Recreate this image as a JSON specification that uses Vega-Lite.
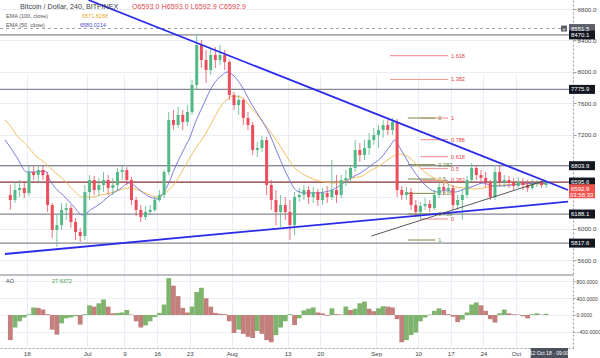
{
"$schema":"https://vega.github.io/schema/vega-lite/v6.json",
"width":573,"height":348,
"autosize":{"type":"none"},
"padding":{"left":0,"top":0,"right":27,"bottom":10},
"background":"white",
"config":{"view":{"stroke":null},"font":"Liberation Sans"},
"datasets":{
"candles":[
{"t":"2018-06-14T12:00Z","o":6431,"h":6558,"l":6240,"c":6367,"ao":-600},
{"t":"2018-06-15T12:00Z","o":6367,"h":6596,"l":6329,"c":6494,"ao":-300},
{"t":"2018-06-16T12:00Z","o":6494,"h":6622,"l":6405,"c":6520,"ao":-150},
{"t":"2018-06-17T12:00Z","o":6520,"h":6609,"l":6392,"c":6456,"ao":-60},
{"t":"2018-06-18T12:00Z","o":6456,"h":6813,"l":6418,"c":6724,"ao":20},
{"t":"2018-06-19T12:00Z","o":6724,"h":6800,"l":6622,"c":6685,"ao":180},
{"t":"2018-06-20T12:00Z","o":6685,"h":6787,"l":6596,"c":6749,"ao":170},
{"t":"2018-06-21T12:00Z","o":6749,"h":6813,"l":6622,"c":6685,"ao":130},
{"t":"2018-06-22T12:00Z","o":6685,"h":6724,"l":6214,"c":6303,"ao":20},
{"t":"2018-06-23T12:00Z","o":6303,"h":6329,"l":5883,"c":5985,"ao":-350},
{"t":"2018-06-24T12:00Z","o":5985,"h":6176,"l":5768,"c":6048,"ao":-470},
{"t":"2018-06-25T12:00Z","o":6048,"h":6329,"l":5985,"c":6240,"ao":-200},
{"t":"2018-06-26T12:00Z","o":6240,"h":6329,"l":6112,"c":6265,"ao":-80},
{"t":"2018-06-27T12:00Z","o":6265,"h":6303,"l":6010,"c":6087,"ao":-60},
{"t":"2018-06-28T12:00Z","o":6087,"h":6138,"l":5857,"c":5959,"ao":-30},
{"t":"2018-06-29T12:00Z","o":5959,"h":6010,"l":5832,"c":5908,"ao":-230},
{"t":"2018-06-30T12:00Z","o":5908,"h":6558,"l":5857,"c":6469,"ao":20},
{"t":"2018-07-01T12:00Z","o":6469,"h":6685,"l":6367,"c":6622,"ao":230},
{"t":"2018-07-02T12:00Z","o":6622,"h":6673,"l":6431,"c":6494,"ao":200},
{"t":"2018-07-03T12:00Z","o":6494,"h":6647,"l":6418,"c":6558,"ao":280},
{"t":"2018-07-04T12:00Z","o":6558,"h":6724,"l":6469,"c":6622,"ao":370},
{"t":"2018-07-05T12:00Z","o":6622,"h":6685,"l":6431,"c":6520,"ao":200},
{"t":"2018-07-06T12:00Z","o":6520,"h":6647,"l":6431,"c":6558,"ao":40},
{"t":"2018-07-07T12:00Z","o":6558,"h":6775,"l":6494,"c":6724,"ao":50},
{"t":"2018-07-08T12:00Z","o":6724,"h":6800,"l":6622,"c":6749,"ao":60},
{"t":"2018-07-09T12:00Z","o":6749,"h":6787,"l":6558,"c":6622,"ao":120},
{"t":"2018-07-10T12:00Z","o":6622,"h":6660,"l":6303,"c":6367,"ao":10},
{"t":"2018-07-11T12:00Z","o":6367,"h":6405,"l":6163,"c":6240,"ao":-150},
{"t":"2018-07-12T12:00Z","o":6240,"h":6303,"l":6087,"c":6150,"ao":-300},
{"t":"2018-07-13T12:00Z","o":6150,"h":6291,"l":6112,"c":6214,"ao":-250},
{"t":"2018-07-14T12:00Z","o":6214,"h":6303,"l":6176,"c":6240,"ao":-150},
{"t":"2018-07-15T12:00Z","o":6240,"h":6418,"l":6214,"c":6367,"ao":-50},
{"t":"2018-07-16T12:00Z","o":6367,"h":6494,"l":6342,"c":6431,"ao":50},
{"t":"2018-07-17T12:00Z","o":6431,"h":6749,"l":6392,"c":6724,"ao":250},
{"t":"2018-07-18T12:00Z","o":6724,"h":7488,"l":6685,"c":7386,"ao":880},
{"t":"2018-07-19T12:00Z","o":7386,"h":7514,"l":7259,"c":7322,"ao":700},
{"t":"2018-07-20T12:00Z","o":7322,"h":7552,"l":7284,"c":7450,"ao":450},
{"t":"2018-07-21T12:00Z","o":7450,"h":7514,"l":7259,"c":7361,"ao":170},
{"t":"2018-07-22T12:00Z","o":7361,"h":7577,"l":7310,"c":7488,"ao":60},
{"t":"2018-07-23T12:00Z","o":7488,"h":7896,"l":7450,"c":7832,"ao":200},
{"t":"2018-07-24T12:00Z","o":7832,"h":8470,"l":7768,"c":8342,"ao":550},
{"t":"2018-07-25T12:00Z","o":8342,"h":8405,"l":8049,"c":8151,"ao":650},
{"t":"2018-07-26T12:00Z","o":8151,"h":8278,"l":7858,"c":8023,"ao":400},
{"t":"2018-07-27T12:00Z","o":8023,"h":8303,"l":7959,"c":8214,"ao":200},
{"t":"2018-07-28T12:00Z","o":8214,"h":8316,"l":8049,"c":8151,"ao":50},
{"t":"2018-07-29T12:00Z","o":8151,"h":8342,"l":8087,"c":8214,"ao":30},
{"t":"2018-07-30T12:00Z","o":8214,"h":8278,"l":8023,"c":8125,"ao":20},
{"t":"2018-07-31T12:00Z","o":8125,"h":8151,"l":7641,"c":7705,"ao":-150},
{"t":"2018-08-01T12:00Z","o":7705,"h":7743,"l":7514,"c":7577,"ao":-430},
{"t":"2018-08-02T12:00Z","o":7577,"h":7705,"l":7450,"c":7641,"ao":-350},
{"t":"2018-08-03T12:00Z","o":7641,"h":7666,"l":7322,"c":7412,"ao":-450},
{"t":"2018-08-04T12:00Z","o":7412,"h":7488,"l":7259,"c":7322,"ao":-520},
{"t":"2018-08-05T12:00Z","o":7322,"h":7361,"l":6940,"c":7004,"ao":-550},
{"t":"2018-08-06T12:00Z","o":7004,"h":7106,"l":6915,"c":7029,"ao":-380},
{"t":"2018-08-07T12:00Z","o":7029,"h":7182,"l":6979,"c":7131,"ao":-450},
{"t":"2018-08-08T12:00Z","o":7131,"h":7170,"l":6431,"c":6558,"ao":-600},
{"t":"2018-08-09T12:00Z","o":6558,"h":6622,"l":6240,"c":6367,"ao":-650},
{"t":"2018-08-10T12:00Z","o":6367,"h":6494,"l":6048,"c":6214,"ao":-480},
{"t":"2018-08-11T12:00Z","o":6214,"h":6431,"l":6023,"c":6303,"ao":-300},
{"t":"2018-08-12T12:00Z","o":6303,"h":6405,"l":6112,"c":6214,"ao":-150},
{"t":"2018-08-13T12:00Z","o":6214,"h":6367,"l":5857,"c":6048,"ao":20},
{"t":"2018-08-14T12:00Z","o":6048,"h":6469,"l":5921,"c":6405,"ao":-240},
{"t":"2018-08-15T12:00Z","o":6405,"h":6520,"l":6342,"c":6431,"ao":-80},
{"t":"2018-08-16T12:00Z","o":6431,"h":6558,"l":6367,"c":6494,"ao":110},
{"t":"2018-08-17T12:00Z","o":6494,"h":6545,"l":6316,"c":6405,"ao":150},
{"t":"2018-08-18T12:00Z","o":6405,"h":6533,"l":6329,"c":6469,"ao":180},
{"t":"2018-08-19T12:00Z","o":6469,"h":6507,"l":6291,"c":6367,"ao":60},
{"t":"2018-08-20T12:00Z","o":6367,"h":6520,"l":6303,"c":6456,"ao":40},
{"t":"2018-08-21T12:00Z","o":6456,"h":6545,"l":6329,"c":6405,"ao":-20},
{"t":"2018-08-22T12:00Z","o":6405,"h":6877,"l":6367,"c":6494,"ao":160},
{"t":"2018-08-23T12:00Z","o":6494,"h":6685,"l":6329,"c":6431,"ao":20},
{"t":"2018-08-24T12:00Z","o":6431,"h":6685,"l":6392,"c":6622,"ao":10},
{"t":"2018-08-25T12:00Z","o":6622,"h":6749,"l":6545,"c":6647,"ao":200},
{"t":"2018-08-26T12:00Z","o":6647,"h":6813,"l":6596,"c":6775,"ao":120},
{"t":"2018-08-27T12:00Z","o":6775,"h":7131,"l":6724,"c":7004,"ao":150},
{"t":"2018-08-28T12:00Z","o":7004,"h":7093,"l":6851,"c":6940,"ao":280},
{"t":"2018-08-29T12:00Z","o":6940,"h":7131,"l":6877,"c":7029,"ao":320},
{"t":"2018-08-30T12:00Z","o":7029,"h":7221,"l":6940,"c":7131,"ao":150},
{"t":"2018-08-31T12:00Z","o":7131,"h":7284,"l":7068,"c":7195,"ao":90},
{"t":"2018-09-01T12:00Z","o":7195,"h":7322,"l":7029,"c":7259,"ao":160},
{"t":"2018-09-02T12:00Z","o":7259,"h":7386,"l":7157,"c":7322,"ao":210},
{"t":"2018-09-03T12:00Z","o":7322,"h":7386,"l":7195,"c":7259,"ao":200},
{"t":"2018-09-04T12:00Z","o":7259,"h":7412,"l":7195,"c":7361,"ao":180},
{"t":"2018-09-05T12:00Z","o":7361,"h":7399,"l":6405,"c":6494,"ao":-100},
{"t":"2018-09-06T12:00Z","o":6494,"h":6545,"l":6367,"c":6431,"ao":-650},
{"t":"2018-09-07T12:00Z","o":6431,"h":6533,"l":6367,"c":6469,"ao":-600},
{"t":"2018-09-08T12:00Z","o":6469,"h":6520,"l":6240,"c":6303,"ao":-480},
{"t":"2018-09-09T12:00Z","o":6303,"h":6367,"l":6150,"c":6214,"ao":-420},
{"t":"2018-09-10T12:00Z","o":6214,"h":6342,"l":6125,"c":6291,"ao":-150},
{"t":"2018-09-11T12:00Z","o":6291,"h":6392,"l":6240,"c":6316,"ao":-60},
{"t":"2018-09-12T12:00Z","o":6316,"h":6367,"l":6214,"c":6265,"ao":10},
{"t":"2018-09-13T12:00Z","o":6265,"h":6494,"l":6240,"c":6431,"ao":100},
{"t":"2018-09-14T12:00Z","o":6431,"h":6584,"l":6392,"c":6533,"ao":160},
{"t":"2018-09-15T12:00Z","o":6533,"h":6584,"l":6431,"c":6494,"ao":120},
{"t":"2018-09-16T12:00Z","o":6494,"h":6571,"l":6456,"c":6520,"ao":20},
{"t":"2018-09-17T12:00Z","o":6520,"h":6558,"l":6240,"c":6303,"ao":-40},
{"t":"2018-09-18T12:00Z","o":6303,"h":6431,"l":6240,"c":6367,"ao":-170},
{"t":"2018-09-19T12:00Z","o":6367,"h":6494,"l":6112,"c":6431,"ao":-110},
{"t":"2018-09-20T12:00Z","o":6431,"h":6673,"l":6392,"c":6622,"ao":60},
{"t":"2018-09-21T12:00Z","o":6622,"h":6838,"l":6596,"c":6775,"ao":250},
{"t":"2018-09-22T12:00Z","o":6775,"h":6813,"l":6622,"c":6685,"ao":300},
{"t":"2018-09-23T12:00Z","o":6685,"h":6749,"l":6584,"c":6647,"ao":230},
{"t":"2018-09-24T12:00Z","o":6647,"h":6724,"l":6533,"c":6584,"ao":100},
{"t":"2018-09-25T12:00Z","o":6584,"h":6622,"l":6367,"c":6405,"ao":-100},
{"t":"2018-09-26T12:00Z","o":6405,"h":6787,"l":6367,"c":6724,"ao":-180},
{"t":"2018-09-27T12:00Z","o":6724,"h":6800,"l":6545,"c":6596,"ao":40},
{"t":"2018-09-28T12:00Z","o":6596,"h":6685,"l":6533,"c":6622,"ao":130},
{"t":"2018-09-29T12:00Z","o":6622,"h":6673,"l":6520,"c":6584,"ao":40},
{"t":"2018-09-30T12:00Z","o":6584,"h":6647,"l":6494,"c":6545,"ao":20},
{"t":"2018-10-01T12:00Z","o":6545,"h":6660,"l":6520,"c":6596,"ao":10},
{"t":"2018-10-02T12:00Z","o":6596,"h":6647,"l":6494,"c":6558,"ao":-30},
{"t":"2018-10-03T12:00Z","o":6558,"h":6622,"l":6469,"c":6520,"ao":-80},
{"t":"2018-10-04T12:00Z","o":6520,"h":6635,"l":6494,"c":6571,"ao":20},
{"t":"2018-10-05T12:00Z","o":6571,"h":6622,"l":6533,"c":6584,"ao":40},
{"t":"2018-10-06T12:00Z","o":6584,"h":6609,"l":6520,"c":6558,"ao":10},
{"t":"2018-10-07T12:00Z","o":6558,"h":6609,"l":6520,"c":6593,"ao":28}
],
"ema":[
{"t":"2018-06-13T09:00Z","e50":7131,"e100":7386},
{"t":"2018-06-14T00:00Z","e50":7080,"e100":7348},
{"t":"2018-06-16T00:00Z","e50":6902,"e100":7182},
{"t":"2018-06-18T00:00Z","e50":6724,"e100":7068},
{"t":"2018-06-20T00:00Z","e50":6724,"e100":6928},
{"t":"2018-06-22T00:00Z","e50":6737,"e100":6838},
{"t":"2018-06-23T00:00Z","e50":6622,"e100":6780},
{"t":"2018-06-24T00:00Z","e50":6533,"e100":6724},
{"t":"2018-06-26T00:00Z","e50":6418,"e100":6622},
{"t":"2018-06-28T00:00Z","e50":6291,"e100":6494},
{"t":"2018-06-30T00:00Z","e50":6176,"e100":6405},
{"t":"2018-07-02T00:00Z","e50":6252,"e100":6405},
{"t":"2018-07-04T00:00Z","e50":6329,"e100":6431},
{"t":"2018-07-06T00:00Z","e50":6431,"e100":6456},
{"t":"2018-07-08T00:00Z","e50":6507,"e100":6494},
{"t":"2018-07-10T00:00Z","e50":6584,"e100":6520},
{"t":"2018-07-12T00:00Z","e50":6507,"e100":6494},
{"t":"2018-07-14T00:00Z","e50":6418,"e100":6443},
{"t":"2018-07-16T00:00Z","e50":6380,"e100":6405},
{"t":"2018-07-17T00:00Z","e50":6431,"e100":6420},
{"t":"2018-07-18T00:00Z","e50":6520,"e100":6469},
{"t":"2018-07-20T00:00Z","e50":6800,"e100":6596},
{"t":"2018-07-22T00:00Z","e50":7042,"e100":6800},
{"t":"2018-07-23T00:00Z","e50":7157,"e100":6900},
{"t":"2018-07-24T00:00Z","e50":7322,"e100":7004},
{"t":"2018-07-26T00:00Z","e50":7590,"e100":7170},
{"t":"2018-07-28T00:00Z","e50":7832,"e100":7386},
{"t":"2018-07-30T00:00Z","e50":7959,"e100":7590},
{"t":"2018-07-31T00:00Z","e50":7998,"e100":7645},
{"t":"2018-08-01T00:00Z","e50":7972,"e100":7692},
{"t":"2018-08-03T00:00Z","e50":7832,"e100":7679},
{"t":"2018-08-05T00:00Z","e50":7616,"e100":7552},
{"t":"2018-08-07T00:00Z","e50":7424,"e100":7412},
{"t":"2018-08-09T00:00Z","e50":7221,"e100":7259},
{"t":"2018-08-11T00:00Z","e50":6940,"e100":7093},
{"t":"2018-08-13T00:00Z","e50":6673,"e100":6902},
{"t":"2018-08-15T00:00Z","e50":6482,"e100":6749},
{"t":"2018-08-17T00:00Z","e50":6456,"e100":6673},
{"t":"2018-08-19T00:00Z","e50":6456,"e100":6622},
{"t":"2018-08-21T00:00Z","e50":6469,"e100":6596},
{"t":"2018-08-23T00:00Z","e50":6507,"e100":6584},
{"t":"2018-08-25T00:00Z","e50":6584,"e100":6609},
{"t":"2018-08-27T00:00Z","e50":6660,"e100":6647},
{"t":"2018-08-29T00:00Z","e50":6724,"e100":6673},
{"t":"2018-08-31T00:00Z","e50":6813,"e100":6749},
{"t":"2018-09-02T00:00Z","e50":6902,"e100":6813},
{"t":"2018-09-04T00:00Z","e50":7055,"e100":6902},
{"t":"2018-09-05T00:00Z","e50":7131,"e100":6935},
{"t":"2018-09-06T00:00Z","e50":7042,"e100":6953},
{"t":"2018-09-08T00:00Z","e50":6838,"e100":6915},
{"t":"2018-09-10T00:00Z","e50":6660,"e100":6800},
{"t":"2018-09-12T00:00Z","e50":6533,"e100":6698},
{"t":"2018-09-14T00:00Z","e50":6469,"e100":6635},
{"t":"2018-09-16T00:00Z","e50":6494,"e100":6584},
{"t":"2018-09-18T00:00Z","e50":6469,"e100":6533},
{"t":"2018-09-20T00:00Z","e50":6507,"e100":6520},
{"t":"2018-09-22T00:00Z","e50":6545,"e100":6507},
{"t":"2018-09-24T00:00Z","e50":6584,"e100":6520},
{"t":"2018-09-26T00:00Z","e50":6545,"e100":6545},
{"t":"2018-09-28T00:00Z","e50":6545,"e100":6558},
{"t":"2018-09-30T00:00Z","e50":6558,"e100":6564},
{"t":"2018-10-02T00:00Z","e50":6571,"e100":6571},
{"t":"2018-10-04T00:00Z","e50":6577,"e100":6571},
{"t":"2018-10-07T12:00Z","e50":6580,"e100":6572}
],
"levels":[
{"p":8551.5,"kind":"alert"},
{"p":8470.1,"kind":"line"},
{"p":7775.9,"kind":"line"},
{"p":6803.9,"kind":"line"},
{"p":6595.6,"kind":"pivot"},
{"p":6188.1,"kind":"line"},
{"p":5817.6,"kind":"line"}
],
"last":[{"p":6592.9,"cd":"03:58:33"}],
"fib":[
{"g":"r","lv":"1.618","p":8205.7,"t1":"2018-09-04T00:00Z","t2":"2018-09-16T10:00Z"},
{"g":"r","lv":"1.382","p":7902.3,"t1":"2018-09-04T00:00Z","t2":"2018-09-16T10:00Z"},
{"g":"r","lv":"1","p":7411,"t1":"2018-09-10T12:00Z","t2":"2018-09-16T10:00Z"},
{"g":"r","lv":"0.786","p":7135.8,"t1":"2018-09-10T12:00Z","t2":"2018-09-16T10:00Z"},
{"g":"r","lv":"0.618","p":6919.7,"t1":"2018-09-10T12:00Z","t2":"2018-09-16T10:00Z"},
{"g":"r","lv":"0.5","p":6768,"t1":"2018-09-10T12:00Z","t2":"2018-09-16T10:00Z"},
{"g":"r","lv":"0.382","p":6616.3,"t1":"2018-09-10T12:00Z","t2":"2018-09-16T10:00Z"},
{"g":"r","lv":"0","p":6125,"t1":"2018-09-10T12:00Z","t2":"2018-09-16T10:00Z"},
{"g":"o","lv":"0","p":7411,"t1":"2018-09-07T19:00Z","t2":"2018-09-13T17:00Z"},
{"g":"o","lv":"0.382","p":6817.4,"t1":"2018-09-07T19:00Z","t2":"2018-09-13T17:00Z"},
{"g":"o","lv":"0.5","p":6634,"t1":"2018-09-07T19:00Z","t2":"2018-09-13T17:00Z"},
{"g":"o","lv":"0.618","p":6450.6,"t1":"2018-09-07T19:00Z","t2":"2018-09-13T17:00Z"},
{"g":"o","lv":"0.786","p":6189.6,"t1":"2018-09-07T19:00Z","t2":"2018-09-13T17:00Z"},
{"g":"o","lv":"1","p":5857,"t1":"2018-09-07T19:00Z","t2":"2018-09-13T17:00Z"}
],
"trend":[
{"id":"A","t":"2018-07-01T06:45Z","p":8915},
{"id":"A","t":"2018-10-12T04:00Z","p":6494},
{"id":"B","t":"2018-06-13T08:40Z","p":5679},
{"id":"B","t":"2018-10-12T04:00Z","p":6345},
{"id":"C","t":"2018-08-31T00:00Z","p":5908},
{"id":"C","t":"2018-10-06T22:00Z","p":6609}
],
"legend":[
{"k":"sym","txt":"Bitcoin / Dollar, 240, BITFINEX"},
{"k":"ohlc","txt":"O6593.0  H6593.0  L6592.9  C6592.9"},
{"k":"e100","txt":"EMA (100, close)"},
{"k":"e100v","txt":"6571.8268"},
{"k":"e50","txt":"EMA (50, close)"},
{"k":"e50v","txt":"6580.0214"},
{"k":"ao","txt":"AO"},
{"k":"aov","txt":"27.6372"},
{"k":"time","txt":"12 Oct 18 · 09:00"},
{"k":"plus","txt":"+"}
]
},
"layer":[
{"layer":[
{"data":{"name":"levels"},"transform":[{"filter":"datum.kind=='line'"}],"mark":{"type":"rule","color":"#858892","strokeWidth":1.2},
 "encoding":{"y":{"field":"p","type":"quantitative","scale":{"domain":[5424,8915],"range":[274,0],"nice":false,"zero":false},
 "axis":{"orient":"right","title":null,"values":[5600,5800,6000,6200,6400,6600,6800,7000,7200,7400,7600,7800,8000,8200,8400,8600,8800],"labelExpr":"indexof([5800,6200,6400,6600,6800,7800,8600],datum.value)>=0?'':format(datum.value,'.1f')","grid":true,"gridColor":"#e8eef3","domainColor":"#9a9ea8","domainDash":[2,2],"tickColor":"#9a9ea8","tickSize":3,"labelFontSize":6.2,"labelColor":"#444","labelPadding":1,"labelOverlap":false}}}},
{"data":{"name":"levels"},"transform":[{"filter":"datum.kind=='pivot'"}],"mark":{"type":"rule","color":"#843030","strokeWidth":1.2},
 "encoding":{"y":{"field":"p","type":"quantitative","scale":{"domain":[5424,8915],"range":[274,0],"nice":false,"zero":false}}}},
{"data":{"name":"levels"},"transform":[{"filter":"datum.kind=='alert'"}],"mark":{"type":"rule","color":"#a0a3ab","strokeWidth":1,"strokeDash":[3,3]},
 "encoding":{"y":{"field":"p","type":"quantitative","scale":{"domain":[5424,8915],"range":[274,0],"nice":false,"zero":false}}}},
{"data":{"name":"fib"},"transform":[{"filter":"datum.g=='r'"}],"mark":{"type":"rule","color":"#f49a9a","strokeWidth":1.2},
 "encoding":{"x":{"field":"t1","type":"temporal","scale":{"type":"utc","domain":[{"year":2018,"month":6,"date":13,"hours":8,"minutes":38,"utc":true},{"year":2018,"month":10,"date":12,"hours":4,"minutes":5,"utc":true}]}},"x2":{"field":"t2"},
 "y":{"field":"p","type":"quantitative","scale":{"domain":[5424,8915],"range":[274,0],"nice":false,"zero":false}}}},
{"data":{"name":"fib"},"transform":[{"filter":"datum.g=='r'"}],"mark":{"type":"text","color":"#e3444a","fontSize":5.6,"align":"left","baseline":"middle","dx":3},
 "encoding":{"x":{"field":"t2","type":"temporal","scale":{"type":"utc","domain":[{"year":2018,"month":6,"date":13,"hours":8,"minutes":38,"utc":true},{"year":2018,"month":10,"date":12,"hours":4,"minutes":5,"utc":true}]}},
 "y":{"field":"p","type":"quantitative","scale":{"domain":[5424,8915],"range":[274,0],"nice":false,"zero":false}},"text":{"field":"lv"}}},
{"data":{"name":"fib"},"transform":[{"filter":"datum.g=='o'"}],"mark":{"type":"rule","color":"#8f9a5c","strokeWidth":1.2},
 "encoding":{"x":{"field":"t1","type":"temporal","scale":{"type":"utc","domain":[{"year":2018,"month":6,"date":13,"hours":8,"minutes":38,"utc":true},{"year":2018,"month":10,"date":12,"hours":4,"minutes":5,"utc":true}]}},"x2":{"field":"t2"},
 "y":{"field":"p","type":"quantitative","scale":{"domain":[5424,8915],"range":[274,0],"nice":false,"zero":false}}}},
{"data":{"name":"fib"},"transform":[{"filter":"datum.g=='o'"}],"mark":{"type":"text","color":"#6b8a36","fontSize":5.6,"align":"left","baseline":"middle","dx":3},
 "encoding":{"x":{"field":"t2","type":"temporal","scale":{"type":"utc","domain":[{"year":2018,"month":6,"date":13,"hours":8,"minutes":38,"utc":true},{"year":2018,"month":10,"date":12,"hours":4,"minutes":5,"utc":true}]}},
 "y":{"field":"p","type":"quantitative","scale":{"domain":[5424,8915],"range":[274,0],"nice":false,"zero":false}},"text":{"field":"lv"}}},
{"data":{"name":"ema"},"mark":{"type":"line","color":"#f2b650","strokeWidth":0.9,"interpolate":"monotone"},
 "encoding":{"x":{"field":"t","type":"temporal","scale":{"type":"utc","domain":[{"year":2018,"month":6,"date":13,"hours":8,"minutes":38,"utc":true},{"year":2018,"month":10,"date":12,"hours":4,"minutes":5,"utc":true}]}},
 "y":{"field":"e100","type":"quantitative","scale":{"domain":[5424,8915],"range":[274,0],"nice":false,"zero":false}}}},
{"data":{"name":"ema"},"mark":{"type":"line","color":"#6d6dd8","strokeWidth":0.9,"interpolate":"monotone"},
 "encoding":{"x":{"field":"t","type":"temporal","scale":{"type":"utc","domain":[{"year":2018,"month":6,"date":13,"hours":8,"minutes":38,"utc":true},{"year":2018,"month":10,"date":12,"hours":4,"minutes":5,"utc":true}]}},
 "y":{"field":"e50","type":"quantitative","scale":{"domain":[5424,8915],"range":[274,0],"nice":false,"zero":false}}}},
{"data":{"name":"candles"},"mark":{"type":"rule","strokeWidth":0.8},
 "encoding":{"x":{"field":"t","type":"temporal","scale":{"type":"utc","domain":[{"year":2018,"month":6,"date":13,"hours":8,"minutes":38,"utc":true},{"year":2018,"month":10,"date":12,"hours":4,"minutes":5,"utc":true}]}},
 "y":{"field":"l","type":"quantitative","scale":{"domain":[5424,8915],"range":[274,0],"nice":false,"zero":false}},"y2":{"field":"h"},
 "color":{"condition":{"test":"datum.c>=datum.o","value":"#53b987"},"value":"#eb4d5c"}}},
{"data":{"name":"candles"},"mark":{"type":"bar","width":3},
 "encoding":{"x":{"field":"t","type":"temporal","scale":{"type":"utc","domain":[{"year":2018,"month":6,"date":13,"hours":8,"minutes":38,"utc":true},{"year":2018,"month":10,"date":12,"hours":4,"minutes":5,"utc":true}]}},
 "y":{"field":"o","type":"quantitative","scale":{"domain":[5424,8915],"range":[274,0],"nice":false,"zero":false}},"y2":{"field":"c"},
 "color":{"condition":{"test":"datum.c>=datum.o","value":"#53b987"},"value":"#eb4d5c"}}},
{"data":{"name":"trend"},"transform":[{"filter":"datum.id!='C'"}],"mark":{"type":"line","color":"#2b2bea","strokeWidth":1.8},
 "encoding":{"x":{"field":"t","type":"temporal","scale":{"type":"utc","domain":[{"year":2018,"month":6,"date":13,"hours":8,"minutes":38,"utc":true},{"year":2018,"month":10,"date":12,"hours":4,"minutes":5,"utc":true}]}},
 "y":{"field":"p","type":"quantitative","scale":{"domain":[5424,8915],"range":[274,0],"nice":false,"zero":false}},"detail":{"field":"id"}}},
{"data":{"name":"trend"},"transform":[{"filter":"datum.id=='C'"}],"mark":{"type":"line","color":"#444444","strokeWidth":0.9},
 "encoding":{"x":{"field":"t","type":"temporal","scale":{"type":"utc","domain":[{"year":2018,"month":6,"date":13,"hours":8,"minutes":38,"utc":true},{"year":2018,"month":10,"date":12,"hours":4,"minutes":5,"utc":true}]}},
 "y":{"field":"p","type":"quantitative","scale":{"domain":[5424,8915],"range":[274,0],"nice":false,"zero":false}}}},
{"data":{"name":"levels"},"mark":{"type":"rect","xOffset":1,"x2Offset":27,"yOffset":-4.5,"y2Offset":4.5},
 "encoding":{"x":{"datum":{"year":2018,"month":10,"date":12,"hours":4,"minutes":5,"utc":true},"type":"temporal","scale":{"type":"utc","domain":[{"year":2018,"month":6,"date":13,"hours":8,"minutes":38,"utc":true},{"year":2018,"month":10,"date":12,"hours":4,"minutes":5,"utc":true}]}},
 "x2":{"datum":{"year":2018,"month":10,"date":12,"hours":4,"minutes":5,"utc":true}},
 "y":{"field":"p","type":"quantitative","scale":{"domain":[5424,8915],"range":[274,0],"nice":false,"zero":false}},"y2":{"field":"p"},
 "color":{"condition":{"test":"datum.kind=='alert'","value":"#5d606b"},"value":"#131722"}}},
{"data":{"name":"levels"},"transform":[{"filter":"datum.kind=='alert'"}],"mark":{"type":"rect","color":"#5d606b","xOffset":-7,"x2Offset":-1,"yOffset":-3,"y2Offset":3},
 "encoding":{"x":{"datum":{"year":2018,"month":10,"date":12,"hours":4,"minutes":5,"utc":true},"type":"temporal","scale":{"type":"utc","domain":[{"year":2018,"month":6,"date":13,"hours":8,"minutes":38,"utc":true},{"year":2018,"month":10,"date":12,"hours":4,"minutes":5,"utc":true}]}},
 "x2":{"datum":{"year":2018,"month":10,"date":12,"hours":4,"minutes":5,"utc":true}},
 "y":{"field":"p","type":"quantitative","scale":{"domain":[5424,8915],"range":[274,0],"nice":false,"zero":false}},"y2":{"field":"p"}}},
{"data":{"name":"levels"},"mark":{"type":"text","color":"white","fontSize":6,"align":"left","baseline":"middle","dx":3},
 "encoding":{"x":{"datum":{"year":2018,"month":10,"date":12,"hours":4,"minutes":5,"utc":true},"type":"temporal","scale":{"type":"utc","domain":[{"year":2018,"month":6,"date":13,"hours":8,"minutes":38,"utc":true},{"year":2018,"month":10,"date":12,"hours":4,"minutes":5,"utc":true}]}},
 "y":{"field":"p","type":"quantitative","scale":{"domain":[5424,8915],"range":[274,0],"nice":false,"zero":false}},
 "text":{"field":"p","type":"quantitative","format":".1f"}}},
{"data":{"name":"legend"},"transform":[{"filter":"datum.k=='plus'"}],"mark":{"type":"text","color":"white","fontSize":6,"align":"center","baseline":"middle","dx":-4},
 "encoding":{"x":{"datum":{"year":2018,"month":10,"date":12,"hours":4,"minutes":5,"utc":true},"type":"temporal","scale":{"type":"utc","domain":[{"year":2018,"month":6,"date":13,"hours":8,"minutes":38,"utc":true},{"year":2018,"month":10,"date":12,"hours":4,"minutes":5,"utc":true}]}},
 "y":{"datum":8551.5,"type":"quantitative","scale":{"domain":[5424,8915],"range":[274,0],"nice":false,"zero":false}},"text":{"field":"txt"}}},
{"data":{"name":"last"},"mark":{"type":"rect","color":"#ef5350","xOffset":1,"x2Offset":27,"yOffset":2,"y2Offset":16},
 "encoding":{"x":{"datum":{"year":2018,"month":10,"date":12,"hours":4,"minutes":5,"utc":true},"type":"temporal","scale":{"type":"utc","domain":[{"year":2018,"month":6,"date":13,"hours":8,"minutes":38,"utc":true},{"year":2018,"month":10,"date":12,"hours":4,"minutes":5,"utc":true}]}},
 "x2":{"datum":{"year":2018,"month":10,"date":12,"hours":4,"minutes":5,"utc":true}},
 "y":{"field":"p","type":"quantitative","scale":{"domain":[5424,8915],"range":[274,0],"nice":false,"zero":false}},"y2":{"field":"p"}}},
{"data":{"name":"last"},"mark":{"type":"text","color":"white","fontSize":6,"align":"left","baseline":"middle","dx":3,"dy":6.3},
 "encoding":{"x":{"datum":{"year":2018,"month":10,"date":12,"hours":4,"minutes":5,"utc":true},"type":"temporal","scale":{"type":"utc","domain":[{"year":2018,"month":6,"date":13,"hours":8,"minutes":38,"utc":true},{"year":2018,"month":10,"date":12,"hours":4,"minutes":5,"utc":true}]}},
 "y":{"field":"p","type":"quantitative","scale":{"domain":[5424,8915],"range":[274,0],"nice":false,"zero":false}},
 "text":{"field":"p","type":"quantitative","format":".1f"}}},
{"data":{"name":"last"},"mark":{"type":"text","color":"white","fontSize":6,"align":"left","baseline":"middle","dx":2,"dy":13},
 "encoding":{"x":{"datum":{"year":2018,"month":10,"date":12,"hours":4,"minutes":5,"utc":true},"type":"temporal","scale":{"type":"utc","domain":[{"year":2018,"month":6,"date":13,"hours":8,"minutes":38,"utc":true},{"year":2018,"month":10,"date":12,"hours":4,"minutes":5,"utc":true}]}},
 "y":{"field":"p","type":"quantitative","scale":{"domain":[5424,8915],"range":[274,0],"nice":false,"zero":false}},
 "text":{"field":"cd"}}},
{"data":{"name":"legend"},"transform":[{"filter":"datum.k=='sym'"}],"mark":{"type":"text","align":"left","baseline":"middle","dx":15,"dy":7,"fontSize":7.2,"color":"#3b3f4a"},
 "encoding":{"x":{"datum":{"year":2018,"month":6,"date":13,"hours":8,"minutes":38,"utc":true},"type":"temporal","scale":{"type":"utc","domain":[{"year":2018,"month":6,"date":13,"hours":8,"minutes":38,"utc":true},{"year":2018,"month":10,"date":12,"hours":4,"minutes":5,"utc":true}]}},
 "y":{"datum":8915,"type":"quantitative","scale":{"domain":[5424,8915],"range":[274,0],"nice":false,"zero":false}},"text":{"field":"txt"}}},
{"data":{"name":"legend"},"transform":[{"filter":"datum.k=='ohlc'"}],"mark":{"type":"text","align":"left","baseline":"middle","dx":127,"dy":7,"fontSize":7.2,"color":"#e0474c"},
 "encoding":{"x":{"datum":{"year":2018,"month":6,"date":13,"hours":8,"minutes":38,"utc":true},"type":"temporal","scale":{"type":"utc","domain":[{"year":2018,"month":6,"date":13,"hours":8,"minutes":38,"utc":true},{"year":2018,"month":10,"date":12,"hours":4,"minutes":5,"utc":true}]}},
 "y":{"datum":8915,"type":"quantitative","scale":{"domain":[5424,8915],"range":[274,0],"nice":false,"zero":false}},"text":{"field":"txt"}}},
{"data":{"name":"legend"},"transform":[{"filter":"datum.k=='e100'"}],"mark":{"type":"text","align":"left","baseline":"middle","dx":1,"dy":16,"fontSize":5.5,"color":"#555"},
 "encoding":{"x":{"datum":{"year":2018,"month":6,"date":13,"hours":8,"minutes":38,"utc":true},"type":"temporal","scale":{"type":"utc","domain":[{"year":2018,"month":6,"date":13,"hours":8,"minutes":38,"utc":true},{"year":2018,"month":10,"date":12,"hours":4,"minutes":5,"utc":true}]}},
 "y":{"datum":8915,"type":"quantitative","scale":{"domain":[5424,8915],"range":[274,0],"nice":false,"zero":false}},"text":{"field":"txt"}}},
{"data":{"name":"legend"},"transform":[{"filter":"datum.k=='e100v'"}],"mark":{"type":"text","align":"left","baseline":"middle","dx":77,"dy":16,"fontSize":5.5,"color":"#e9a92c"},
 "encoding":{"x":{"datum":{"year":2018,"month":6,"date":13,"hours":8,"minutes":38,"utc":true},"type":"temporal","scale":{"type":"utc","domain":[{"year":2018,"month":6,"date":13,"hours":8,"minutes":38,"utc":true},{"year":2018,"month":10,"date":12,"hours":4,"minutes":5,"utc":true}]}},
 "y":{"datum":8915,"type":"quantitative","scale":{"domain":[5424,8915],"range":[274,0],"nice":false,"zero":false}},"text":{"field":"txt"}}},
{"data":{"name":"legend"},"transform":[{"filter":"datum.k=='e50'"}],"mark":{"type":"text","align":"left","baseline":"middle","dx":1,"dy":25,"fontSize":5.5,"color":"#555"},
 "encoding":{"x":{"datum":{"year":2018,"month":6,"date":13,"hours":8,"minutes":38,"utc":true},"type":"temporal","scale":{"type":"utc","domain":[{"year":2018,"month":6,"date":13,"hours":8,"minutes":38,"utc":true},{"year":2018,"month":10,"date":12,"hours":4,"minutes":5,"utc":true}]}},
 "y":{"datum":8915,"type":"quantitative","scale":{"domain":[5424,8915],"range":[274,0],"nice":false,"zero":false}},"text":{"field":"txt"}}},
{"data":{"name":"legend"},"transform":[{"filter":"datum.k=='e50v'"}],"mark":{"type":"text","align":"left","baseline":"middle","dx":75,"dy":25,"fontSize":5.5,"color":"#4a4ac8"},
 "encoding":{"x":{"datum":{"year":2018,"month":6,"date":13,"hours":8,"minutes":38,"utc":true},"type":"temporal","scale":{"type":"utc","domain":[{"year":2018,"month":6,"date":13,"hours":8,"minutes":38,"utc":true},{"year":2018,"month":10,"date":12,"hours":4,"minutes":5,"utc":true}]}},
 "y":{"datum":8915,"type":"quantitative","scale":{"domain":[5424,8915],"range":[274,0],"nice":false,"zero":false}},"text":{"field":"txt"}}}
]},
{"layer":[
{"data":{"values":[{"edge":955}]},"mark":{"type":"rule","color":"#a6a9b0","strokeWidth":1.5},
 "encoding":{"y":{"field":"edge","type":"quantitative","scale":{"domain":[-788,955],"range":[348,275],"nice":false,"zero":false}}}},
{"data":{"name":"candles"},"transform":[{"window":[{"op":"lag","field":"ao","as":"prev"}],"sort":[{"field":"t"}]}],
 "mark":{"type":"bar","width":4.8},
 "encoding":{"x":{"field":"t","type":"temporal","scale":{"type":"utc","domain":[{"year":2018,"month":6,"date":13,"hours":8,"minutes":38,"utc":true},{"year":2018,"month":10,"date":12,"hours":4,"minutes":5,"utc":true}]},
 "axis":{"title":null,"values":[{"year":2018,"month":6,"date":18,"utc":true},{"year":2018,"month":7,"date":1,"utc":true},{"year":2018,"month":7,"date":9,"utc":true},{"year":2018,"month":7,"date":16,"utc":true},{"year":2018,"month":7,"date":23,"utc":true},{"year":2018,"month":8,"date":1,"utc":true},{"year":2018,"month":8,"date":13,"utc":true},{"year":2018,"month":8,"date":20,"utc":true},{"year":2018,"month":9,"date":1,"utc":true},{"year":2018,"month":9,"date":10,"utc":true},{"year":2018,"month":9,"date":17,"utc":true},{"year":2018,"month":9,"date":24,"utc":true},{"year":2018,"month":10,"date":1,"utc":true}],
 "labelExpr":"utcdate(datum.value)==1?utcFormat(datum.value,'%b'):utcFormat(datum.value,'%-d')","grid":true,"gridColor":"#e8eef3","ticks":false,"domainColor":"#9a9ea8","domainDash":[2,2],"labelFontSize":6.2,"labelColor":"#444","labelPadding":2,"labelOverlap":false}},
 "y":{"field":"ao","type":"quantitative","scale":{"domain":[-788,955],"range":[348,275],"nice":false,"zero":false},
 "axis":{"orient":"right","title":null,"values":[-400,0,400,800],"format":".4f","grid":true,"gridColor":"#e8eef3","domainColor":"#9a9ea8","domainDash":[2,2],"tickColor":"#9a9ea8","tickSize":2,"labelFontSize":5.1,"labelColor":"#444","labelPadding":1}},
 "y2":{"datum":0},
 "color":{"condition":{"test":"datum.ao>=datum.prev","value":"#7fb46e"},"value":"#c27f7c"}}},
{"data":{"name":"legend"},"transform":[{"filter":"datum.k=='ao'"}],"mark":{"type":"text","align":"left","baseline":"middle","dx":1,"dy":6,"fontSize":5.5,"color":"#444"},
 "encoding":{"x":{"datum":{"year":2018,"month":6,"date":13,"hours":8,"minutes":38,"utc":true},"type":"temporal","scale":{"type":"utc","domain":[{"year":2018,"month":6,"date":13,"hours":8,"minutes":38,"utc":true},{"year":2018,"month":10,"date":12,"hours":4,"minutes":5,"utc":true}]}},
 "y":{"datum":955,"type":"quantitative","scale":{"domain":[-788,955],"range":[348,275],"nice":false,"zero":false}},"text":{"field":"txt"}}},
{"data":{"name":"legend"},"transform":[{"filter":"datum.k=='aov'"}],"mark":{"type":"text","align":"left","baseline":"middle","dx":47,"dy":6,"fontSize":5.5,"color":"#4c9a3c"},
 "encoding":{"x":{"datum":{"year":2018,"month":6,"date":13,"hours":8,"minutes":38,"utc":true},"type":"temporal","scale":{"type":"utc","domain":[{"year":2018,"month":6,"date":13,"hours":8,"minutes":38,"utc":true},{"year":2018,"month":10,"date":12,"hours":4,"minutes":5,"utc":true}]}},
 "y":{"datum":955,"type":"quantitative","scale":{"domain":[-788,955],"range":[348,275],"nice":false,"zero":false}},"text":{"field":"txt"}}},
{"data":{"name":"legend"},"transform":[{"filter":"datum.k=='time'"}],"mark":{"type":"rect","color":"#4a505c","y2Offset":10},
 "encoding":{"x":{"datum":{"year":2018,"month":10,"date":4,"hours":4,"utc":true},"type":"temporal","scale":{"type":"utc","domain":[{"year":2018,"month":6,"date":13,"hours":8,"minutes":38,"utc":true},{"year":2018,"month":10,"date":12,"hours":4,"minutes":5,"utc":true}]}},
 "x2":{"datum":{"year":2018,"month":10,"date":12,"hours":4,"minutes":5,"utc":true}},
 "y":{"datum":-788,"type":"quantitative","scale":{"domain":[-788,955],"range":[348,275],"nice":false,"zero":false}},"y2":{"datum":-788}}},
{"data":{"name":"legend"},"transform":[{"filter":"datum.k=='time'"}],"mark":{"type":"text","align":"center","baseline":"middle","dy":5,"fontSize":5.1,"color":"white"},
 "encoding":{"x":{"datum":{"year":2018,"month":10,"date":8,"hours":4,"utc":true},"type":"temporal","scale":{"type":"utc","domain":[{"year":2018,"month":6,"date":13,"hours":8,"minutes":38,"utc":true},{"year":2018,"month":10,"date":12,"hours":4,"minutes":5,"utc":true}]}},
 "y":{"datum":-788,"type":"quantitative","scale":{"domain":[-788,955],"range":[348,275],"nice":false,"zero":false}},"text":{"field":"txt"}}}
]}
],
"resolve":{"scale":{"y":"independent"},"axis":{"y":"independent"}}
}
